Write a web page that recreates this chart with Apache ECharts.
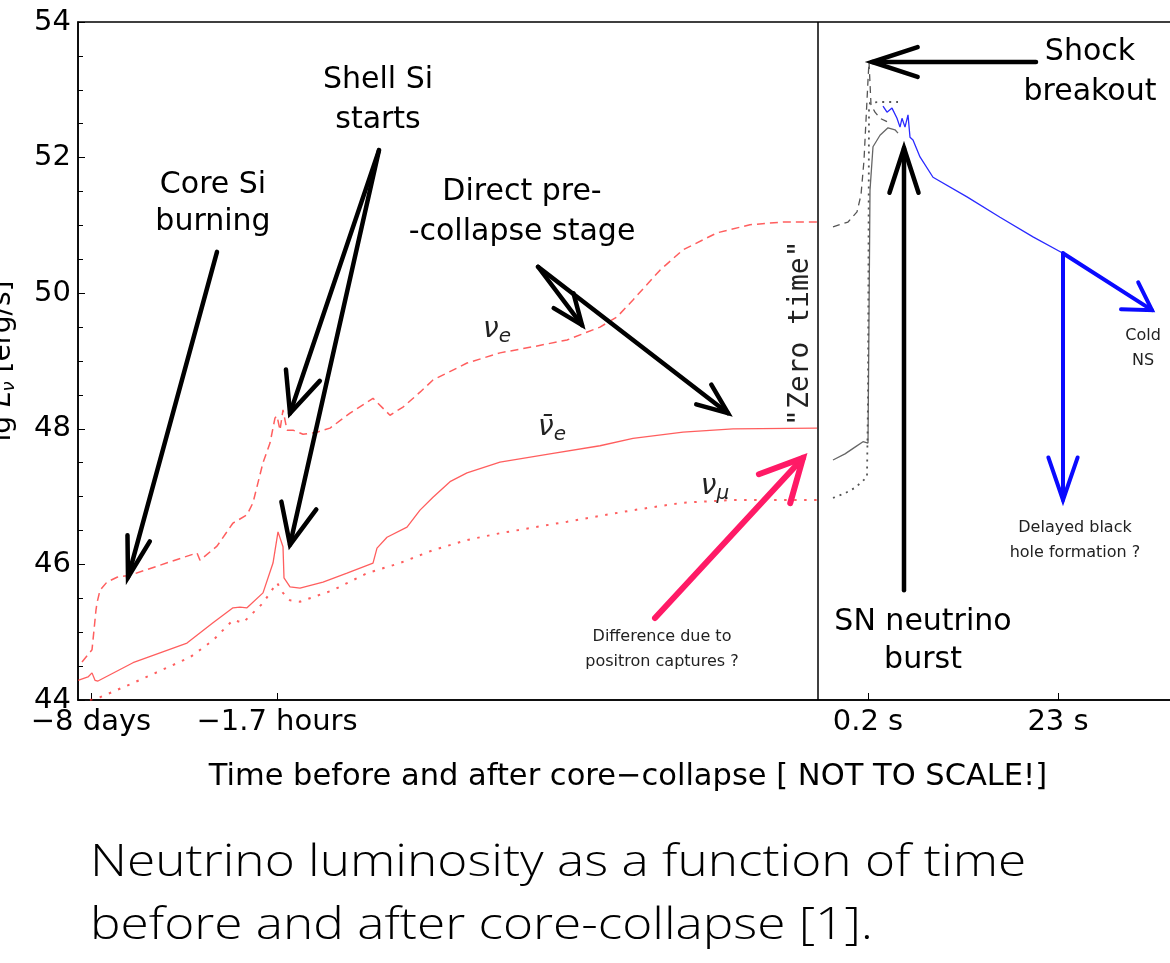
<!DOCTYPE html>
<html><head><meta charset="utf-8">
<script src="https://cdn.jsdelivr.net/npm/echarts@6/dist/echarts.min.js"></script>
<style>html,body{margin:0;padding:0;background:#fff}#c{width:1170px;height:963px}</style>
</head><body><div id="c"></div>
<script>
// ---- Data (x in arbitrary "not to scale" units, y = lg L [erg/s]) ----
const tickPos = [1.3, 19.9, 79.0, 98.0];
const tickLabels = ['\u22128 days', '\u22121.7 hours', '0.2 s', '23 s'];
const zeroTime = 74.0;

// pre-collapse, nu_e (dashed red)
const nueX = [0.4,1.4,1.6,1.8,1.9,2.2,2.9,3.9,5.2,11.9,12.2,13.9,15.5,16.9,17.5,18.5,19.2,19.7,19.9,20.2,20.5,20.9,21.5,22.5,23.9,25.2,27.2,29.5,31.2,32.5,34.2,35.5,38.9,42.2,45.5,48.9,52.2,53.9,55.5,58.2,60.5,63.9,67.2,70.5,73.9];
const nueY = [44.56,44.74,45.03,45.33,45.43,45.62,45.74,45.81,45.84,46.17,46.06,46.27,46.61,46.73,46.91,47.50,47.79,48.16,48.19,47.98,48.28,47.98,47.98,47.92,47.95,48.01,48.23,48.45,48.20,48.32,48.54,48.72,48.97,49.12,49.21,49.31,49.50,49.65,49.90,50.34,50.64,50.89,51.01,51.05,51.05];
// pre-collapse, anti nu_e (solid red)
const anueX = [0,1.0,1.4,1.7,2.0,5.5,10.9,13.5,15.5,16.2,16.9,18.5,19.5,20.0,20.5,20.6,21.2,22.2,24.5,26.9,29.5,29.9,30.9,32.9,34.2,35.5,37.2,38.9,42.2,47.2,52.2,55.5,60.5,65.5,73.9];
const anueY = [44.29,44.34,44.40,44.29,44.28,44.55,44.84,45.14,45.36,45.37,45.36,45.58,46.02,46.48,46.26,45.80,45.67,45.65,45.74,45.87,46.02,46.24,46.40,46.55,46.80,46.99,47.22,47.35,47.51,47.63,47.75,47.86,47.95,48.00,48.01];
// pre-collapse, nu_mu (dotted red)
const numuX = [1.2,2.2,5.5,11.2,13.5,15.5,16.5,18.5,19.9,20.5,21.2,22.2,25.5,28.9,32.2,35.5,38.9,42.2,48.9,55.5,60.5,65.5,73.9];
const numuY = [44.0,44.04,44.25,44.63,44.88,45.18,45.14,45.43,45.73,45.58,45.47,45.45,45.62,45.87,46.02,46.21,46.36,46.46,46.63,46.80,46.91,46.95,46.95];
// post-collapse (grey)
const postNueX = [75.5,77.0,77.9,78.3,78.6,78.8,79.0,79.1,79.3,79.7,80.2,80.9];
const postNueY = [50.98,51.05,51.20,51.45,51.96,52.55,53.14,53.41,52.78,52.67,52.58,52.53];
const postAnueX = [75.5,76.7,77.7,78.5,79.0,79.2,79.5,80.2,81.0,81.7,82.0];
const postAnueY = [47.54,47.63,47.73,47.81,47.79,51.52,52.16,52.33,52.44,52.41,52.36];
const postNumuX = [75.5,76.7,77.7,78.4,78.9,79.0,79.1,79.2,80.2,82.0];
const postNumuY = [46.98,47.05,47.13,47.22,47.29,48.42,52.70,52.81,52.82,52.82];
// cooling (blue)
const coolX = [80.5,80.9,81.4,81.9,82.2,82.4,82.7,83.0,83.2,83.5,84.2,85.5,88.9,92.2,95.5,98.5];
const coolY = [52.76,52.67,52.73,52.58,52.45,52.58,52.45,52.63,52.30,52.26,52.01,51.71,51.42,51.12,50.83,50.59];

// annotation arrows [x1,y1,x2,y2] (tail -> tip)
const blackArrows = [[13.9,50.61,5.0,45.81],[30.1,52.11,21.2,48.23],[30.1,52.11,21.2,46.29],[46.0,50.39,50.4,49.53],[46.0,50.39,65.0,48.23],[95.8,53.41,79.4,53.41],[82.6,45.62,82.6,52.14]];
const pinkArrows = [[57.7,45.21,72.5,47.57]];
const blueArrows = [[98.5,50.59,98.5,46.95],[98.5,50.59,107.4,49.75]];
// annotation text
const annTexts = ['Core Si\nburning','Shell Si\nstarts','Direct pre-\n-collapse stage','Shock\nbreakout','SN neutrino\nburst','Cold\nNS','Delayed black\nhole formation ?','Difference due to\npositron captures ?','"Zero time"'];
const annPos = [[13.5,51.32],[30.0,52.85],[44.4,51.20],[101.2,53.26],[84.5,44.87],[106.5,49.18],[99.7,46.36],[58.4,44.74],[72.3,49.41]];
const mathTexts = ['{n|\u03bd}{s|e}','{n|\u03bd\u0304}{s|e}','{n|\u03bd}{s|\u03bc}'];
const mathPos = [[41.9,49.46],[47.4,48.01],[63.7,47.14]];
const captionLines = ['Neutrino luminosity as a function of time', 'before and after core-collapse [1].'];

// ---- styles (kept apart from data) ----
const headStyle = {black:[[42,16],[44,24],[44,24],[33,22],[33,22],[48,18],[47,18]], pink:[[47,27]], blue:[[45,19],[31,31]]};
const annStyle = [
  {fs:30,lh:37},{fs:30,lh:40},{fs:30,lh:40},{fs:30,lh:40},{fs:30,lh:38},
  {fs:16,lh:25,c:'#222'},{fs:16,lh:25,c:'#222'},{fs:16,lh:25,c:'#222'},
  {fs:28,lh:30,rot:Math.PI/2,ff:'DejaVu Sans Mono',c:'#222'}
];
const FF = 'DejaVu Sans';
const zip = (xs, ys) => xs.map((x, i) => [x, ys[i]]);

function arrowSeries(arrows, heads, color, width) {
  return {
    type: 'custom', data: arrows, clip: false, z: 10, silent: true,
    encode: {x: [0, 2], y: [1, 3]},
    renderItem: function (params, api) {
      const p1 = api.coord([api.value(0), api.value(1)]);
      const p2 = api.coord([api.value(2), api.value(3)]);
      const h = heads[params.dataIndex];
      const L = h[0], a = h[1] * Math.PI / 180;
      const ang = Math.atan2(p1[1] - p2[1], p1[0] - p2[0]);
      const e1 = [p2[0] + L * Math.cos(ang + a), p2[1] + L * Math.sin(ang + a)];
      const e2 = [p2[0] + L * Math.cos(ang - a), p2[1] + L * Math.sin(ang - a)];
      return {type: 'group', children: [
        {type: 'line', shape: {x1: p1[0], y1: p1[1], x2: p2[0], y2: p2[1]}, style: {stroke: color, lineWidth: width, lineCap: 'round'}},
        {type: 'polyline', shape: {points: [e1, p2, e2]}, style: {stroke: color, lineWidth: width, fill: null, lineJoin: 'miter', lineCap: 'round'}}
      ]};
    }
  };
}

const red = 'rgba(255,40,40,0.75)';
const grey = '#555';
function lineSeries(xs, ys, color, type, width) {
  return {type: 'line', data: zip(xs, ys), showSymbol: false, symbol: 'none', smooth: false, z: 3,
    lineStyle: {color: color, width: width || 1.5, type: type}, silent: true};
}

const chart = echarts.init(document.getElementById('c'), null, {renderer: 'canvas'});
chart.setOption({
  animation: false,
  backgroundColor: '#fff',
  graphic: captionLines.map((t, i) => ({
    type: 'text', left: 90, top: 841 + i * 63, scaleX: 1.167,
    style: {text: t, fontFamily: 'Open Sans', fontSize: 44, fontWeight: 300, fill: '#000'}
  })),
  grid: {left: 78, top: 22, width: 1100, height: 678, outerBoundsMode: 'none', containLabel: false,
    show: true, borderColor: '#000', borderWidth: 1.5, backgroundColor: 'transparent'},
  xAxis: {
    type: 'value', min: 0, max: 110,
    name: 'Time before and after core\u2212collapse [ NOT TO SCALE!]',
    nameLocation: 'middle', nameGap: 62,
    nameTextStyle: {fontFamily: FF, fontSize: 30.5, color: '#000'},
    axisLine: {lineStyle: {color: '#000', width: 1.5}},
    axisTick: {inside: true, length: 7, customValues: tickPos, lineStyle: {color: '#000', width: 1}},
    axisLabel: {customValues: tickPos, margin: 8, fontFamily: FF, fontSize: 29, color: '#000',
      formatter: v => { const i = tickPos.findIndex(t => Math.abs(t - v) < 1e-6); return i >= 0 ? tickLabels[i] : ''; }},
    splitLine: {show: false}
  },
  yAxis: {
    type: 'value', min: 44, max: 54, interval: 2,
    name: 'lg {i|L}{s|\u03bd} [erg/s]', nameLocation: 'middle', nameGap: 60, nameRotate: 90,
    nameTextStyle: {fontFamily: FF, fontSize: 28, color: '#000',
      rich: {i: {fontFamily: FF, fontSize: 28, fontStyle: 'italic', color: '#000'}, s: {fontFamily: FF, fontSize: 18, fontStyle: 'italic', color: '#000', padding: [12, 0, 0, 0]}}},
    axisLine: {show: true, lineStyle: {color: '#000', width: 1.5}},
    axisTick: {inside: true, length: 7, lineStyle: {color: '#000', width: 1}},
    minorTick: {show: true, splitNumber: 4, length: 5, lineStyle: {color: '#000', width: 1}},
    axisLabel: {margin: 7, fontFamily: FF, fontSize: 29, color: '#000'},
    splitLine: {show: false}
  },
  series: [
    Object.assign(lineSeries(nueX, nueY, red, [8, 5]), {
      markLine: {silent: true, symbol: 'none', label: {show: false}, lineStyle: {color: '#000', width: 1.5, type: 'solid'}, data: [{xAxis: zeroTime}]}
    }),
    lineSeries(anueX, anueY, red, 'solid', 1.3),
    lineSeries(numuX, numuY, red, [2.5, 7.5], 2),
    lineSeries(postNueX, postNueY, grey, [7, 5], 1.3),
    lineSeries(postAnueX, postAnueY, '#666', 'solid', 1.3),
    lineSeries(postNumuX, postNumuY, grey, [2, 5], 1.8),
    lineSeries(coolX, coolY, '#2a2aff', 'solid', 1.3),
    arrowSeries(blackArrows, headStyle.black, '#000', 4.5),
    arrowSeries(pinkArrows, headStyle.pink, '#ff1a66', 6),
    arrowSeries(blueArrows, headStyle.blue, '#0a0aff', 4),
    {
      type: 'custom', data: annPos, clip: false, z: 12, silent: true,
      renderItem: function (params, api) {
        const p = api.coord([api.value(0), api.value(1)]);
        const s = annStyle[params.dataIndex];
        return {type: 'text', x: p[0], y: p[1], rotation: s.rot || 0,
          style: {text: annTexts[params.dataIndex], fontSize: s.fs, lineHeight: s.lh, fontFamily: s.ff || FF,
            fill: s.c || '#000', align: 'center', verticalAlign: 'middle'}};
      }
    },
    {
      type: 'custom', data: mathPos, clip: false, z: 12, silent: true,
      renderItem: function (params, api) {
        const p = api.coord([api.value(0), api.value(1)]);
        return {type: 'text', x: p[0], y: p[1],
          style: {text: mathTexts[params.dataIndex], align: 'center', verticalAlign: 'middle',
            rich: {n: {fontFamily: FF, fontSize: 28, fontStyle: 'italic', fill: '#222'},
                   s: {fontFamily: FF, fontSize: 20, fontStyle: 'italic', fill: '#222', padding: [14, 0, 0, 0]}}}};
      }
    }
  ]
});
</script></body></html>
